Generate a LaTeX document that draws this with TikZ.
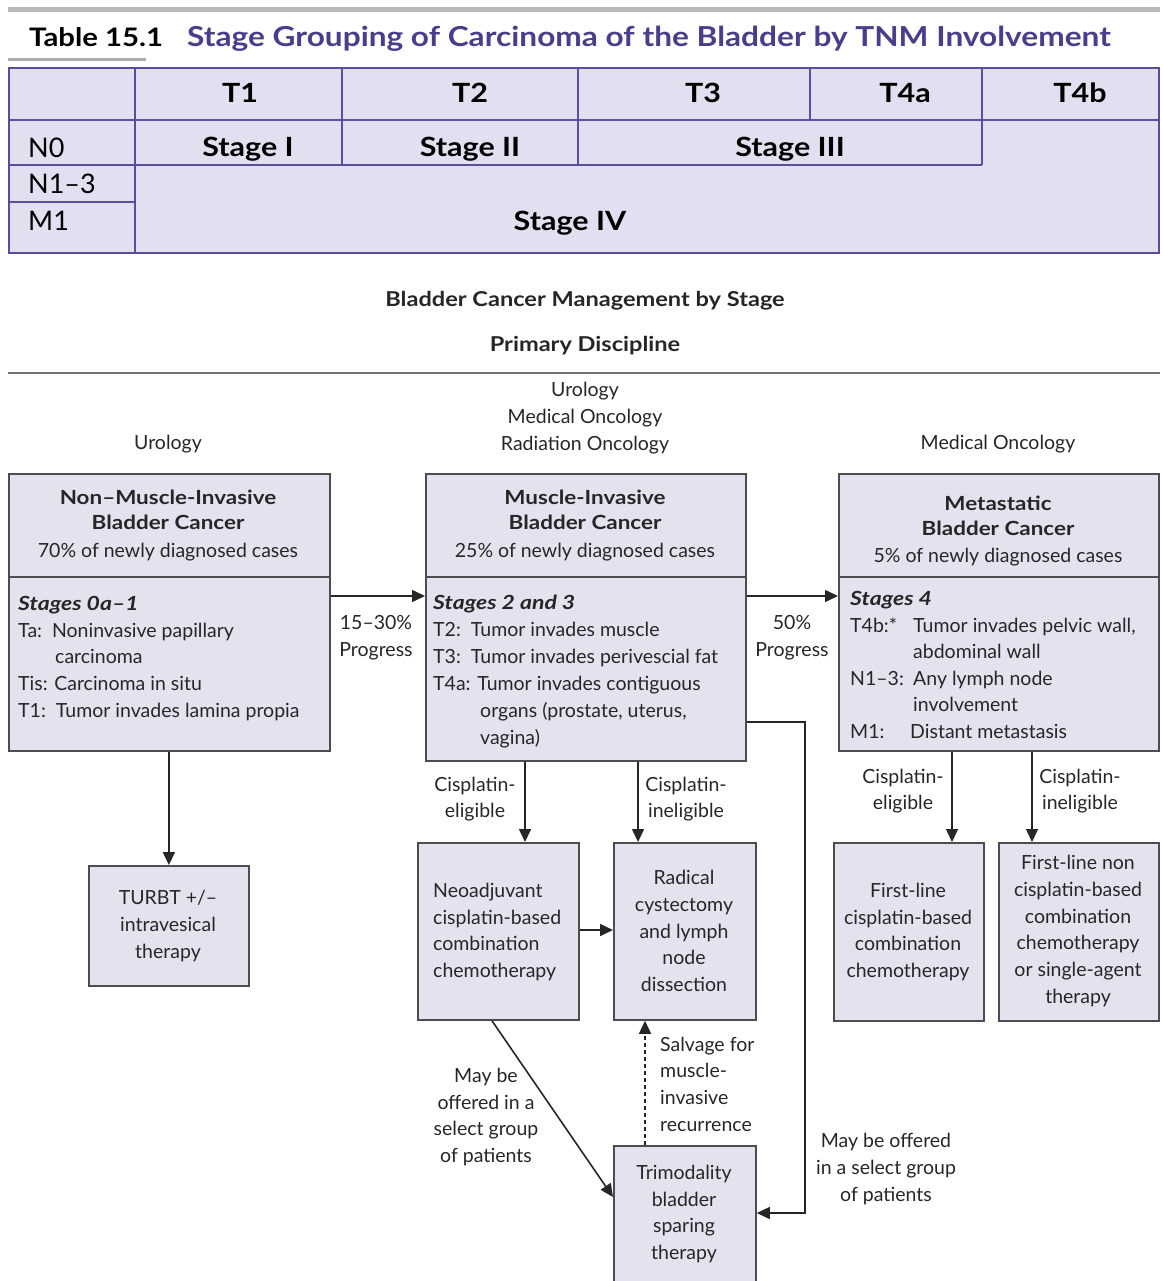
\documentclass[tikz,border=0pt]{standalone}
\usepackage{fontspec}
\setmainfont{Lato}[BoldFeatures={FakeStretch=1.15},BoldItalicFeatures={FakeStretch=1.18}]
\usetikzlibrary{arrows.meta}
\definecolor{boxfill}{HTML}{E5E2F0}
\definecolor{boxline}{HTML}{4D4D4D}
\definecolor{ink}{HTML}{262626}
\definecolor{tabfill}{HTML}{E3DFF1}
\definecolor{tabline}{HTML}{5B4E9E}
\definecolor{tabtitle}{HTML}{4A3D8C}
\begin{document}
\begin{tikzpicture}[x=1pt,y=-1pt,
  box/.style={draw=boxline, fill=boxfill, line width=1.8pt, inner sep=0pt, anchor=north west},
  rule/.style={draw=boxline, line width=1.8pt},
  txt/.style={text=ink, font=\fontsize{19.5}{26.7}\selectfont, inner sep=0pt, align=center},
  txtl/.style={txt, align=left, anchor=mid west},
  head/.style={text=ink, font=\bfseries\fontsize{19.5}{25}\selectfont, inner sep=0pt, align=center},
  stg/.style={text=ink, font=\bfseries\itshape\fontsize{19.5}{26.7}\selectfont, inner sep=0pt, anchor=mid west},
  cell/.style={text=black, font=\bfseries\fontsize{26.5}{30}\selectfont, inner sep=0pt, anchor=base},
  rowlab/.style={text=black, font=\fontsize{27}{30}\selectfont, inner sep=0pt, anchor=base west},
  tl/.style={draw=tabline, line width=1.8pt},
  arr/.style={draw=ink, line width=1.6pt, -{Triangle[length=13pt,width=12pt]}},
  dsh/.style={arr, dash pattern=on 4pt off 3pt}
]
\useasboundingbox (0,0) rectangle (1162,1281);

% ---------- Table 15.1 ----------
\fill[black!28] (8,7) rectangle (1160,12);
\draw[black!32, line width=3pt] (8,60) -- (146,60);
\node[anchor=base west, inner sep=0pt, font=\bfseries\fontsize{25.5}{30}\selectfont] (tabno) at (29,47) {Table 15.1};
\node[anchor=base west, inner sep=0pt, text=tabtitle, font=\bfseries\fontsize{27.5}{30}\selectfont] (tabttl) at (187,47)
  {Stage Grouping of Carcinoma of the Bladder by TNM Involvement};

\node[draw=tabline, fill=tabfill, line width=1.8pt, minimum width=1150pt, minimum height=185pt,
      inner sep=0pt, anchor=north west] (tab) at (8,67) {};
\draw[tl] (8,120) -- (1158,120);
\draw[tl] (8,165) -- (982,165);
\draw[tl] (8,202) -- (135,202);
\draw[tl] (135,67) -- (135,252);
\draw[tl] (342,67) -- (342,165);
\draw[tl] (578,67) -- (578,165);
\draw[tl] (810,67) -- (810,120);
\draw[tl] (982,67) -- (982,165);

\node[cell] (ct1) at (240,103) {T1};
\node[cell] (ct2) at (470,103) {T2};
\node[cell] (ct3) at (703,103) {T3};
\node[cell] (ct4a) at (905,103) {T4a};
\node[cell] (ct4b) at (1080,103) {T4b};
\node[rowlab] (rn0) at (28,158) {N0};
\node[rowlab] (rn13) at (28,194) {N1–3};
\node[rowlab] (rm1) at (28,230) {M1};
\node[cell] (s1) at (248,157) {Stage I};
\node[cell] (s2) at (470,157) {Stage II};
\node[cell] (s3) at (790,157) {Stage III};
\node[cell] (s4) at (570,231) {Stage IV};

% ---------- Management chart ----------
\node[head, font=\bfseries\fontsize{20.5}{25}\selectfont] (mgmt) at (585,301) {Bladder Cancer Management by Stage};
\node[head, font=\bfseries\fontsize{20.5}{25}\selectfont] (disc) at (585,346) {Primary Discipline};
\draw[black!55, line width=2pt] (8,373) -- (1160,373);

\node[txt, anchor=mid] (dl) at (168,447) {Urology};
\node[txt] (dm) at (585,418) {Urology\\Medical Oncology\\Radiation Oncology};
\node[txt, anchor=mid] (dr) at (998,447) {Medical Oncology};

% non-muscle-invasive
\node[box, minimum width=321pt, minimum height=277pt] (nmi) at (8,473) {};
\draw[rule] (8,577) -- (329,577);
\node[head] (nmiT) at (168,510) {Non–Muscle-Invasive\\Bladder Cancer};
\node[txt, anchor=mid] (nmiP) at (168,555) {70\% of newly diagnosed cases};
\node[stg] (nmiS) at (18,608) {Stages 0a–1};
\node[txtl] (nmi1) at (18,635) {Ta:\ \ Noninvasive papillary};
\node[txtl] (nmi2) at (55,661) {carcinoma};
\node[txtl] (nmi3) at (18,688) {Tis: Carcinoma in situ};
\node[txtl] (nmi4) at (18,715) {T1:\ \ Tumor invades lamina propia};

% muscle-invasive
\node[box, minimum width=320pt, minimum height=287pt] (mi) at (425,473) {};
\draw[rule] (425,577) -- (745,577);
\node[head] (miT) at (585,510) {Muscle-Invasive\\Bladder Cancer};
\node[txt, anchor=mid] (miP) at (585,555) {25\% of newly diagnosed cases};
\node[stg] (miS) at (433,607) {Stages 2 and 3};
\node[txtl] (mi1) at (433,634) {T2:\ \ Tumor invades muscle};
\node[txtl] (mi2) at (433,661) {T3:\ \ Tumor invades perivescial fat};
\node[txtl] (mi3) at (433,688) {T4a: Tumor invades contiguous};
\node[txtl] (mi4) at (480,715) {organs (prostate, uterus,};
\node[txtl] (mi5) at (480,742) {vagina)};

% metastatic
\node[box, minimum width=320pt, minimum height=277pt] (met) at (838,473) {};
\draw[rule] (838,577) -- (1158,577);
\node[head] (metT) at (998,516) {Metastatic\\Bladder Cancer};
\node[txt, anchor=mid] (metP) at (998,560) {5\% of newly diagnosed cases};
\node[stg] (metS) at (850,603) {Stages 4};
\node[txtl] (met1) at (850,630) {T4b:*};
\node[txtl] (met1b) at (913,630) {Tumor invades pelvic wall,};
\node[txtl] (met2) at (913,656) {abdominal wall};
\node[txtl] (met3) at (850,683) {N1–3:};
\node[txtl] (met3b) at (913,683) {Any lymph node};
\node[txtl] (met4) at (913,709) {involvement};
\node[txtl] (met5) at (850,736) {M1:};
\node[txtl] (met5b) at (910,736) {Distant metastasis};

% treatment boxes
\node[box, minimum width=160pt, minimum height=120pt] (turbt) at (88,865) {};
\node[txt] (turbtT) at (168,926) {TURBT +/–\\intravesical\\therapy};

\node[box, minimum width=161pt, minimum height=177pt] (neo) at (417,842) {};
\node[txt, align=left, anchor=west] (neoT) at (433,932) {Neoadjuvant\\cisplatin-based\\combination\\chemotherapy};

\node[box, minimum width=142pt, minimum height=177pt] (rad) at (613,842) {};
\node[txt] (radT) at (684,931) {Radical\\cystectomy\\and lymph\\node\\dissection};

\node[box, minimum width=142pt, minimum height=136pt] (tri) at (613,1145) {};
\node[txt] (triT) at (684,1214) {Trimodality\\bladder\\sparing\\therapy};

\node[box, minimum width=150pt, minimum height=178pt] (fl) at (833,842) {};
\node[txt] (flT) at (908,932) {First-line\\cisplatin-based\\combination\\chemotherapy};

\node[box, minimum width=160pt, minimum height=178pt] (fln) at (998,842) {};
\node[txt] (flnT) at (1078,931) {First-line non\\cisplatin-based\\combination\\chemotherapy\\or single-agent\\therapy};

% connectors
\draw[arr] (nmi.east |- 0,596) -- (mi.west |- 0,596);
\node[txt] (p1) at (376,638) {15–30\%\\Progress};
\draw[arr] (mi.east |- 0,596) -- (met.west |- 0,596);
\node[txt] (p2) at (792,638) {50\%\\Progress};

\draw[arr] (nmi.south -| turbt.north) -- (turbt.north);

\draw[arr] (mi.south -| 525,0) -- (neo.north -| 525,0);
\node[txt] (ce1) at (475,799) {Cisplatin-\\eligible};
\draw[arr] (mi.south -| 638,0) -- (rad.north -| 638,0);
\node[txt] (ci1) at (686,799) {Cisplatin-\\ineligible};

\draw[arr] (neo.east |- 0,930) -- (rad.west |- 0,930);

\draw[arr] (neo.south -| 492,0) -- (tri.west |- 0,1197);
\node[txt] (may1) at (486,1117) {May be\\offered in a\\select group\\of patients};

\draw[dsh] (tri.north -| 645,0) -- (rad.south -| 645,0);
\node[txt, align=left, anchor=west] (salv) at (660,1084) {Salvage for\\muscle-\\invasive\\recurrence};

\coordinate (bendA) at (805,722);
\coordinate (bendB) at (805,1213);
\draw[arr] (mi.east |- bendA) -- (bendA) -- (bendB) -- (tri.east |- bendB);
\node[txt] (may2) at (886,1169) {May be offered\\in a select group\\of patients};

\draw[arr] (met.south -| 952,0) -- (fl.north -| 952,0);
\node[txt] (ce2) at (903,791) {Cisplatin-\\eligible};
\draw[arr] (met.south -| 1032,0) -- (fln.north -| 1032,0);
\node[txt] (ci2) at (1080,791) {Cisplatin-\\ineligible};

\end{tikzpicture}
\end{document}
